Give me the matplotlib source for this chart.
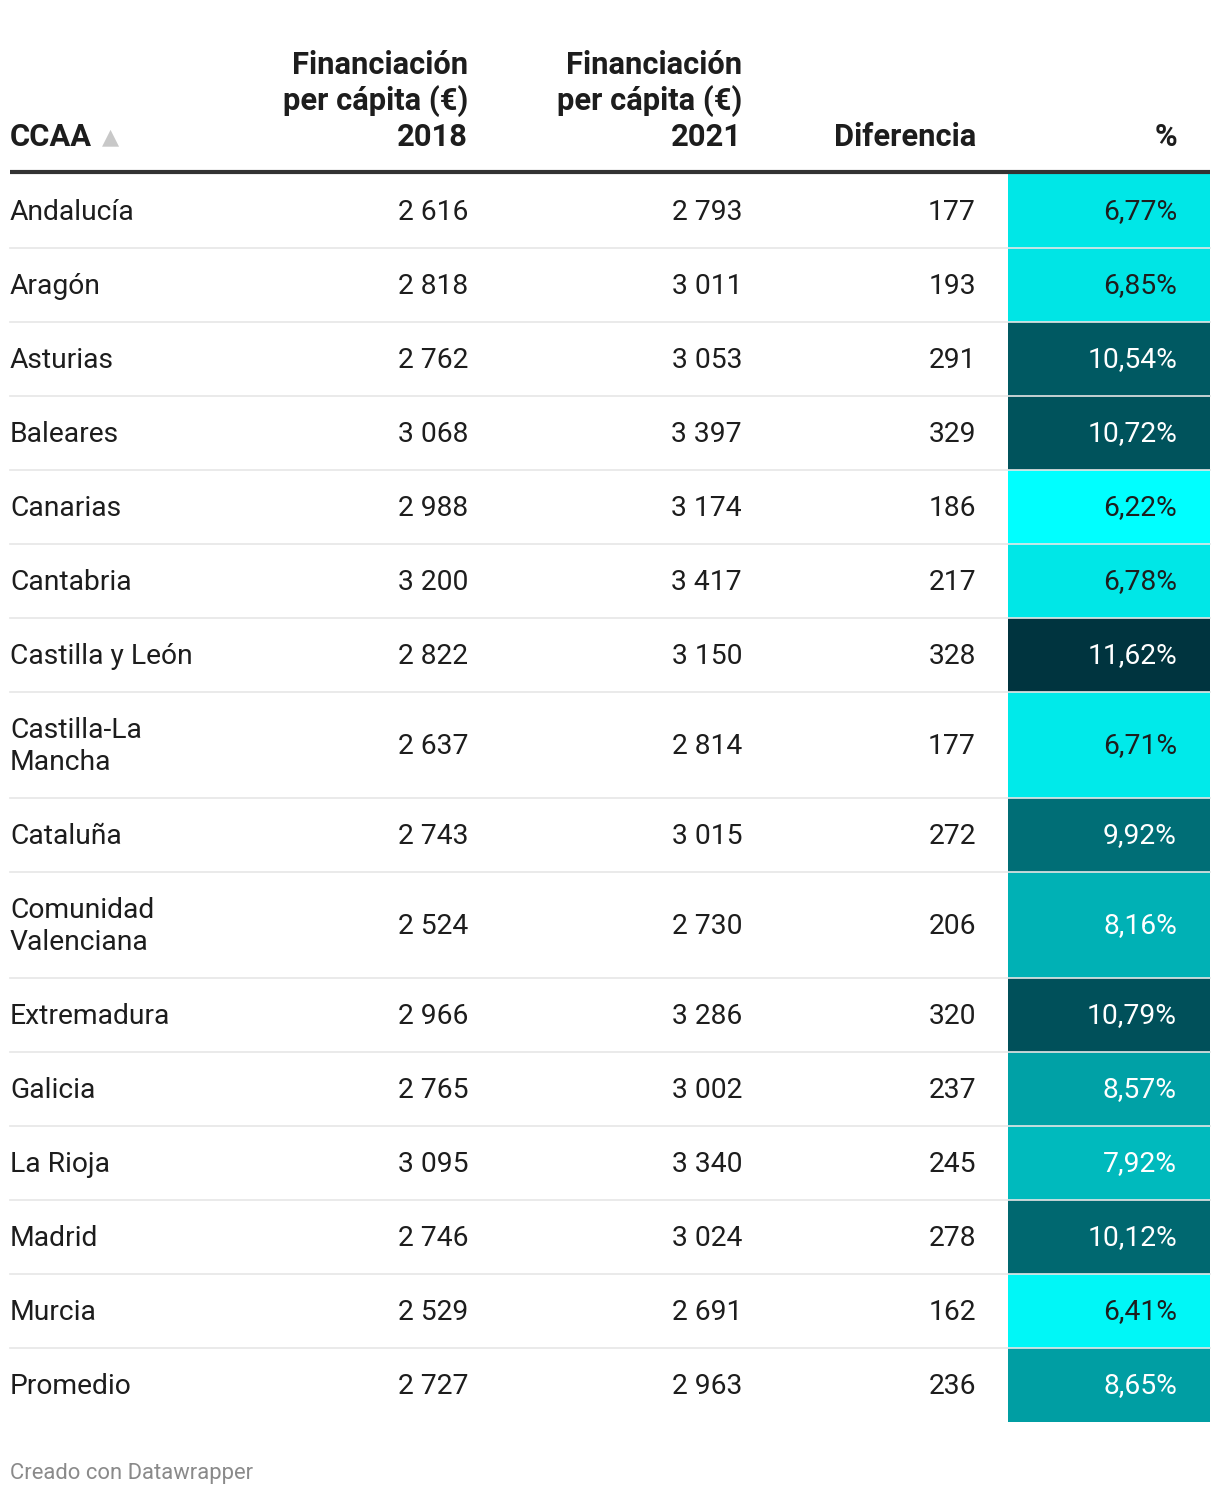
import matplotlib
matplotlib.use("Agg")
import matplotlib.pyplot as plt
from matplotlib.colors import LinearSegmentedColormap
import numpy as np

regions = ["Andalucía", "Aragón", "Asturias", "Baleares", "Canarias", "Cantabria",
           "Castilla y León", "Castilla-La\nMancha", "Cataluña", "Comunidad\nValenciana",
           "Extremadura", "Galicia", "La Rioja", "Madrid", "Murcia", "Promedio"]
fin_2018 = [2616, 2818, 2762, 3068, 2988, 3200, 2822, 2637, 2743, 2524, 2966, 2765, 3095, 2746, 2529, 2727]
fin_2021 = [2793, 3011, 3053, 3397, 3174, 3417, 3150, 2814, 3015, 2730, 3286, 3002, 3340, 3024, 2691, 2963]
diferencia = [177, 193, 291, 329, 186, 217, 328, 177, 272, 206, 320, 237, 245, 278, 162, 236]
pct = [6.77, 6.85, 10.54, 10.72, 6.22, 6.78, 11.62, 6.71, 9.92, 8.16, 10.79, 8.57, 7.92, 10.12, 6.41, 8.65]
headers = ["CCAA", "Financiación\nper cápita (€)\n2018", "Financiación\nper cápita (€)\n2021",
           "Diferencia", "%"]

W, H = 1220, 1496
fig = plt.figure(figsize=(W / 100, H / 100), dpi=100)
ax = fig.add_axes([0, 0, 1, 1])
ax.set_xlim(0, W)
ax.set_ylim(H, 0)
ax.axis("off")

FONT = "Roboto"
FS = 20.3
HFS = 22.2
TXT = "#1d1d1d"

# colour scale
vmin, vmax = min(pct), max(pct)
anchors = [(6.22, "#00ffff"), (6.8, "#00e6e6"), (8.2, "#00afb3"), (9.9, "#006f77"), (11.62, "#00343f")]
cmap = LinearSegmentedColormap.from_list(
    "dw", [((v - vmin) / (vmax - vmin), c) for v, c in anchors])

def fmt_int(v):
    return f"{v:,}".replace(",", " ")

def fmt_pct(v):
    return f"{v:.2f}".replace(".", ",") + "%"

# header
hb = 146
ax.text(10, hb, headers[0], ha="left", va="baseline", fontsize=HFS, fontweight="bold",
        family=FONT, color=TXT)
ax.text(102, hb - 3, "▲", ha="left", va="baseline", fontsize=16, color="#c8c8c8",
        family=["DejaVu Sans"])
col_right = [468, 742, 976, 1177]
for i, h in enumerate(headers[1:]):
    lines = h.split("\n")
    for j, ln in enumerate(reversed(lines)):
        ax.text(col_right[i], hb - 36 * j, ln, ha="right", va="baseline", fontsize=HFS,
                fontweight="bold", family=FONT, color=TXT)

ax.plot([10, 1210], [172, 172], color="#333333", lw=3, solid_capstyle="butt")

# rows
y = 173.5
for k, name in enumerate(regions):
    nl = name.count("\n") + 1
    hgt = 74 if nl == 1 else 106
    top, bot = y, y + hgt
    cy = (top + bot) / 2
    col = cmap((pct[k] - vmin) / (vmax - vmin))
    ax.add_patch(plt.Rectangle((1008, top), 202, hgt, facecolor=col, edgecolor="none"))
    if k < len(regions) - 1:
        ax.plot([10, 1210], [bot, bot], color="#e6e6e6", lw=1.2)
    base = cy + 9
    if nl == 1:
        ax.text(10, base, name, ha="left", va="baseline", fontsize=FS, family=FONT, color=TXT)
    else:
        l1, l2 = name.split("\n")
        ax.text(10, base - 16, l1, ha="left", va="baseline", fontsize=FS, family=FONT, color=TXT)
        ax.text(10, base + 16, l2, ha="left", va="baseline", fontsize=FS, family=FONT, color=TXT)
    ax.text(468, base, fmt_int(fin_2018[k]), ha="right", va="baseline", fontsize=FS,
            family=FONT, color=TXT)
    ax.text(742, base, fmt_int(fin_2021[k]), ha="right", va="baseline", fontsize=FS,
            family=FONT, color=TXT)
    ax.text(976, base, fmt_int(diferencia[k]), ha="right", va="baseline", fontsize=FS,
            family=FONT, color=TXT)
    tc = TXT if pct[k] < 7.5 else "white"
    ax.text(1177, base, fmt_pct(pct[k]), ha="right", va="baseline", fontsize=FS,
            family=FONT, color=tc)
    y = bot

ax.text(10, 1479, "Creado con Datawrapper", ha="left", va="baseline", fontsize=15.8,
        family=FONT, color="#8a8a8a")

fig.savefig("out.png", dpi=100, facecolor="white")
